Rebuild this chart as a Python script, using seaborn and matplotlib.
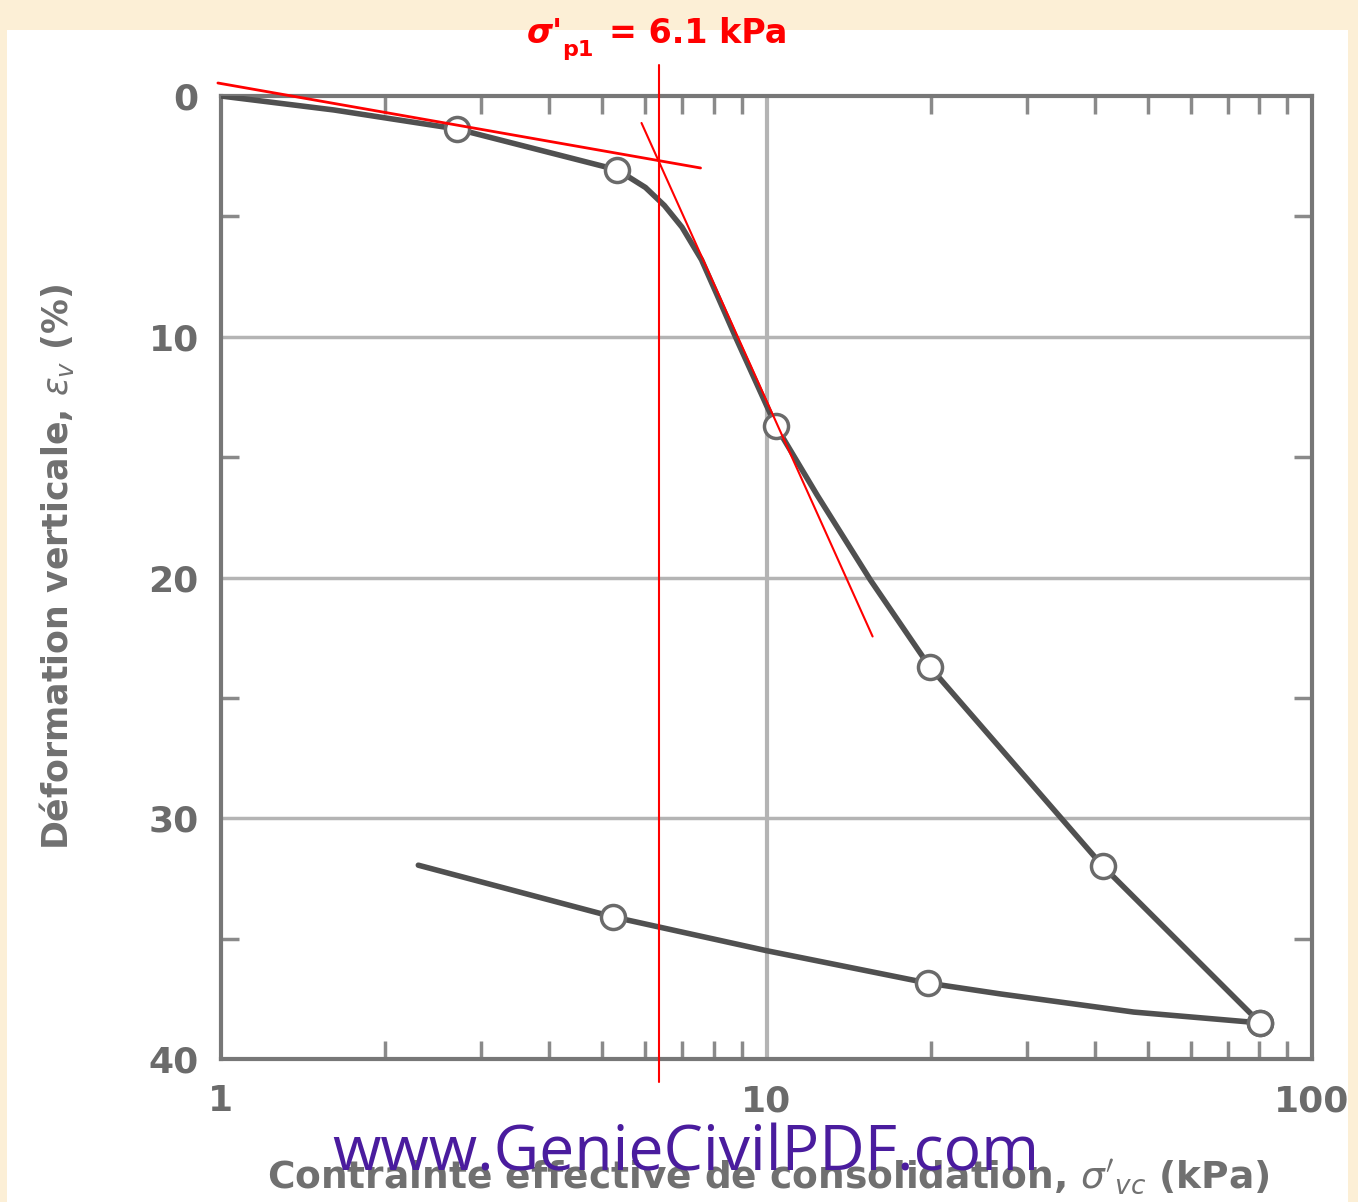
import numpy as np
import pandas as pd
import matplotlib
matplotlib.use('Agg')
import matplotlib.pyplot as plt
from matplotlib.patches import Rectangle
from matplotlib.ticker import FixedLocator, NullFormatter
import seaborn as sns

###############################################################################
# Data
###############################################################################

# loading curve: stress (kPa) and vertical strain (%)
load_stress = [1.0, 1.61, 2.71, 5.33, 6.0, 6.5, 7.0, 7.6, 8.13, 8.77, 10.4,
               12.4, 15.5, 19.9, 41.4, 80.3]
load_strain = [0.0, 0.58, 1.37, 3.07, 3.8, 4.55, 5.45, 6.8, 8.3, 10.0, 13.7,
               16.6, 20.1, 23.7, 32.0, 38.5]
load_pts_stress = [2.71, 5.33, 10.4, 19.9, 41.4, 80.3]
load_pts_strain = [1.37, 3.07, 13.7, 23.7, 32.0, 38.5]

# unloading curve
unload_stress = [2.30, 5.24, 10.0, 19.8, 26.9, 47.1, 80.3]
unload_strain = [31.95, 34.1, 35.5, 36.85, 37.3, 38.05, 38.5]
unload_pts_stress = [5.24, 19.8, 80.3]
unload_pts_strain = [34.1, 36.85, 38.5]

# red construction lines (Casagrande)
tangent1_stress = [0.987, 7.57]
tangent1_strain = [-0.54, 2.99]
tangent2_stress = [5.90, 15.65]
tangent2_strain = [1.12, 22.45]
sigma_p_line = 6.35
sigma_p_label = '6.1 kPa'

x_ticks = [1, 10, 100]
x_ticklabels = ['1', '10', '100']
y_ticks = [0, 10, 20, 30, 40]
y_ticklabels = ['0', '10', '20', '30', '40']

load_df = pd.DataFrame({'stress': load_stress, 'strain': load_strain})
unload_df = pd.DataFrame({'stress': unload_stress, 'strain': unload_strain})
pts_df = pd.DataFrame({'stress': load_pts_stress + unload_pts_stress,
                       'strain': load_pts_strain + unload_pts_strain})

###############################################################################
# Plot
###############################################################################

sns.set_style('white')
plt.rcParams['font.family'] = ['DejaVu Sans']

W, H = 1358, 1202
fig = plt.figure(figsize=(W / 100, H / 100), dpi=100)
fig.patch.set_facecolor('#fcefd6')
fig.add_artist(Rectangle((7 / W, 0), (1348 - 7) / W, 1 - 30 / H,
                         transform=fig.transFigure, facecolor='white',
                         edgecolor='none', zorder=0))

ax = fig.add_axes([221 / W, 1 - 1059 / H, (1312 - 221) / W, (1059 - 96) / H])
ax.set_facecolor('white')
ax.set_xscale('log')
ax.set_xlim(1, 100)
ax.set_ylim(40, 0)

grey = '#6b6b6b'
curve = '#505050'

# grid
for yv in [10, 20, 30]:
    ax.axhline(yv, color='#b4b4b4', lw=2.5, zorder=1)
ax.axvline(10, color='#b4b4b4', lw=3, zorder=1)

sns.lineplot(data=load_df, x='stress', y='strain', sort=False, ax=ax,
             color=curve, lw=4, zorder=3)
sns.lineplot(data=unload_df, x='stress', y='strain', sort=False, ax=ax,
             color=curve, lw=4, zorder=3)
sns.scatterplot(data=pts_df, x='stress', y='strain', ax=ax, s=300,
                facecolor='white', edgecolor='#6a6a6a', linewidth=2.5,
                zorder=4)

# red construction lines
ax.plot(tangent1_stress, tangent1_strain, color='red', lw=2, clip_on=False, zorder=5)
ax.plot(tangent2_stress, tangent2_strain, color='red', lw=1.5, clip_on=False, zorder=5)
ax.plot([sigma_p_line, sigma_p_line], [-1.29, 40.95], color='red', lw=1.5,
        clip_on=False, zorder=5)

# spines and ticks
for s in ax.spines.values():
    s.set_color('#777777')
    s.set_linewidth(3)
ax.xaxis.set_major_locator(FixedLocator(x_ticks))
ax.xaxis.set_minor_locator(FixedLocator([2, 3, 4, 5, 6, 7, 8, 9,
                                         20, 30, 40, 50, 60, 70, 80, 90]))
ax.xaxis.set_minor_formatter(NullFormatter())
ax.set_xticklabels(x_ticklabels)
ax.yaxis.set_major_locator(FixedLocator(y_ticks))
ax.yaxis.set_minor_locator(FixedLocator([5, 15, 25, 35]))
ax.set_yticklabels(y_ticklabels)
ax.tick_params(which='major', length=0, labelsize=26, labelcolor=grey)
ax.tick_params(axis='x', which='major', pad=18)
ax.tick_params(axis='y', which='major', pad=16)
ax.tick_params(which='minor', direction='in', length=13, width=2.5,
               color='#8a8a8a', top=True, right=True, bottom=True, left=True)
for lab in ax.get_xticklabels() + ax.get_yticklabels():
    lab.set_fontweight('bold')
ax.set_xlabel('')
ax.set_ylabel('')

# axis titles
fig.text(768 / W, 1 - 1176 / H,
         "Contrainte effective de consolidation, $\\sigma'_{vc}$ (kPa)",
         ha='center', va='center', fontsize=27, color='#707070',
         fontweight='semibold')
fig.text(57 / W, 1 - 567 / H, 'Déformation verticale, $\\epsilon_v$ (%)',
         ha='center', va='center', rotation=90, fontsize=25,
         color='#707070', fontweight='semibold')

# watermark
fig.text(686 / W, 1 - 1154 / H, 'www.GenieCivilPDF.com', ha='center',
         va='center', fontsize=45, color='#4a1c9e', family='Open Sans')

# red label
fig.text(527 / W, 1 - 43 / H, "\u03c3'", ha='left', va='baseline',
         fontsize=24, color='red', fontweight='bold', style='italic')
fig.text(562 / W, 1 - 56 / H, 'p1', ha='left', va='baseline',
         fontsize=16, color='red', fontweight='bold')
fig.text(609 / W, 1 - 43 / H, '= ' + sigma_p_label, ha='left', va='baseline',
         fontsize=24, color='red', fontweight='bold')

fig.savefig('out.png', dpi=100, facecolor=fig.get_facecolor())
